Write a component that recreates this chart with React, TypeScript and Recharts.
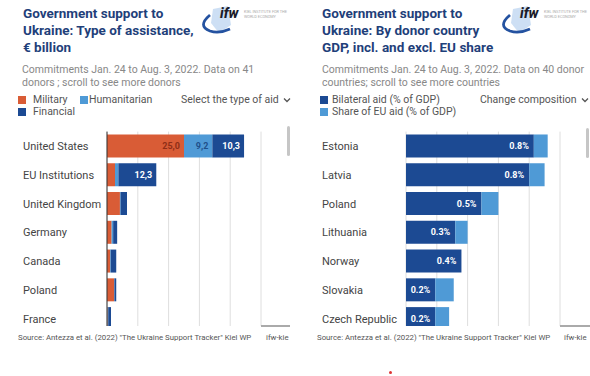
import React from 'react';
import { BarChart, Bar, XAxis, YAxis, CartesianGrid, LabelList } from 'recharts';

// left panel: aid by type, € billion
const donors = ['United States', 'EU Institutions', 'United Kingdom', 'Germany', 'Canada', 'Poland', 'France'];
const militaryAid = [25.0, 2.6, 4.2, 1.5, 1.0, 2.3, 0.2];
const humanitarianAid = [9.2, 1.1, 0.2, 0.5, 0.2, 0.1, 0.2];
const financialAid = [10.3, 12.3, 2.1, 1.3, 1.8, 0.6, 0.9];
const aidTicks = [0, 10, 20, 30, 40, 50];

// right panel: % of donor GDP
const countries = ['Estonia', 'Latvia', 'Poland', 'Lithuania', 'Norway', 'Slovakia', 'Czech Republic'];
const bilateralGdp = [0.83, 0.8, 0.49, 0.32, 0.36, 0.19, 0.19];
const euShareGdp = [0.09, 0.1, 0.11, 0.08, 0, 0.12, 0.09];
const gdpTicks = [0, 0.2, 0.4, 0.6, 0.8, 1.0];

const RED = '#d95c36';
const LIGHT = '#4f9ad6';
const DARK = '#1c4a93';
const NAVY = '#1f3f7a';
const FONT = 'Roboto, "Noto Sans", sans-serif';

const aidData = donors.map((name, i) => ({
  name,
  military: militaryAid[i],
  humanitarian: humanitarianAid[i],
  financial: financialAid[i],
}));

const gdpData = countries.map((name, i) => ({
  name,
  bilateral: bilateralGdp[i],
  eu: euShareGdp[i],
}));

const segLabel = (color: string, fmt: (v: number) => string, min: number, pad: number) => (props: any) => {
  const { x, y, width, height, value } = props;
  if (value == null || value < min) return null;
  return (
    <text
      x={Number(x) + Number(width) - pad}
      y={Number(y) + Number(height) / 2}
      dy={3.2}
      textAnchor="end"
      fontSize={9}
      fontWeight={700}
      fontFamily={FONT}
      fill={color}
    >
      {fmt(value)}
    </text>
  );
};

const comma = (v: number) => v.toFixed(1).replace('.', ',');
const pct = (v: number) => v.toFixed(1) + '%';

const catTick = (left: number) => (props: any) => {
  const { y, payload } = props;
  return (
    <text x={left} y={y} dy={4} fontSize={11} fontFamily={FONT} fill="#444" textAnchor="start">
      {payload.value}
    </text>
  );
};

const Chevron = () => (
  <svg width="8" height="6" style={{ marginLeft: 4, verticalAlign: 'middle' }}>
    <polyline points="1,1.5 4,4.5 7,1.5" fill="none" stroke="#555" strokeWidth="1.3" />
  </svg>
);

const Logo = ({ left }: { left: number }) => (
  <svg width="95" height="40" style={{ position: 'absolute', left, top: 0 }}>
    <path d="M 17 9 L 32 6 L 35 25 L 23 33 L 15 23 Z" fill="#c8dcf3" opacity="0.9" />
    <path d="M 14 15 Q 1 26 14 31 Q 23 34 34 29" fill="none" stroke="#2452a0" strokeWidth="2.8" />
    <text x="24" y="18" fontSize="14" fontWeight="800" fontStyle="italic" fontFamily={FONT} fill="#1b1b2a">ifw</text>
    <text x="48" y="13" fontSize="3.8" fontFamily={FONT} fill="#aaa">KIEL INSTITUTE FOR THE</text>
    <text x="48" y="17.5" fontSize="3.8" fontFamily={FONT} fill="#aaa">WORLD ECONOMY</text>
  </svg>
);

const box = (left: number, top: number, extra: React.CSSProperties = {}): React.CSSProperties => ({
  position: 'absolute',
  left,
  top,
  fontFamily: FONT,
  whiteSpace: 'nowrap',
  ...extra,
});

const titleStyle: React.CSSProperties = { fontSize: 13.5, fontWeight: 700, lineHeight: '17px', color: NAVY };
const subStyle: React.CSSProperties = { fontSize: 10.5, lineHeight: '12.5px', color: '#888' };
const legStyle: React.CSSProperties = { fontSize: 10.5, lineHeight: '12px', color: '#555' };
const srcStyle: React.CSSProperties = { fontSize: 7.8, lineHeight: '10px', color: '#555' };

const Swatch = ({ left, top, color }: { left: number; top: number; color: string }) => (
  <div style={{ position: 'absolute', left, top, width: 8, height: 8, background: color }} />
);

export default function App() {
  return (
    <div style={{ position: 'absolute', left: 0, top: 0, width: 590, height: 376, background: '#fff', overflow: 'hidden' }}>
      {/* left panel */}
      <div style={box(23, 5, titleStyle)}>
        Government support to<br />Ukraine: Type of assistance,<br />€ billion
      </div>
      <Logo left={196} />
      <div style={box(22, 64, subStyle)}>
        Commitments Jan. 24 to Aug. 3, 2022. Data on 41<br />donors ; scroll to see more donors
      </div>
      <Swatch left={18} top={96} color={RED} />
      <div style={box(33, 94, legStyle)}>Military</div>
      <Swatch left={80} top={96} color={LIGHT} />
      <div style={box(89, 94, legStyle)}>Humanitarian</div>
      <Swatch left={18} top={108} color={DARK} />
      <div style={box(33, 106, legStyle)}>Financial</div>
      <div style={box(181, 94, legStyle)}>
        Select the type of aid<Chevron />
      </div>

      <div style={{ position: 'absolute', left: 0, top: 125, width: 295, height: 201, overflow: 'hidden' }}>
        <BarChart
          width={295}
          height={216}
          data={aidData}
          layout="vertical"
          barCategoryGap="10%"
          margin={{ top: 6.6, right: 34, bottom: 8, left: 0 }}
        >
          <CartesianGrid horizontal={false} stroke="#dedede" />
          <XAxis type="number" domain={[0, 50]} ticks={aidTicks} hide />
          <YAxis
            type="category"
            dataKey="name"
            width={107}
            interval={0}
            tickLine={false}
            axisLine={{ stroke: '#333' }}
            tick={catTick(23)}
          />
          <Bar dataKey="military" stackId="a" fill={RED} isAnimationActive={false}>
            <LabelList dataKey="military" content={segLabel('#8e2e17', comma, 5, 4)} />
          </Bar>
          <Bar dataKey="humanitarian" stackId="a" fill={LIGHT} isAnimationActive={false}>
            <LabelList dataKey="humanitarian" content={segLabel('#1f4f8a', comma, 5, 4)} />
          </Bar>
          <Bar dataKey="financial" stackId="a" fill={DARK} isAnimationActive={false}>
            <LabelList dataKey="financial" content={segLabel('#ffffff', comma, 5, 4)} />
          </Bar>
        </BarChart>
      </div>
      <div style={{ position: 'absolute', left: 287, top: 126, width: 3, height: 30, background: '#c6c6c6', borderRadius: 2 }} />
      <div style={{ position: 'absolute', left: 261, top: 325, width: 29, height: 1.5, background: '#aaa' }} />
      <div style={box(18, 333, srcStyle)}>Source: Antezza et al. (2022) "The Ukraine Support Tracker" Kiel WP</div>
      <div style={box(266, 333, srcStyle)}>ifw-kie</div>

      {/* right panel */}
      <div style={box(322, 5, titleStyle)}>
        Government support to<br />Ukraine: By donor country<br />GDP, incl. and excl. EU share
      </div>
      <Logo left={496} />
      <div style={box(322, 64, subStyle)}>
        Commitments Jan. 24 to Aug. 3, 2022. Data on 40 donor<br />countries; scroll to see more countries
      </div>
      <Swatch left={320} top={96} color={DARK} />
      <div style={box(332, 94, legStyle)}>Bilateral aid (% of GDP)</div>
      <Swatch left={320} top={108} color={LIGHT} />
      <div style={box(332, 106, legStyle)}>Share of EU aid (% of GDP)</div>
      <div style={box(480, 94, legStyle)}>
        Change composition<Chevron />
      </div>

      <div style={{ position: 'absolute', left: 295, top: 125, width: 295, height: 201, overflow: 'hidden' }}>
        <BarChart
          width={295}
          height={216}
          data={gdpData}
          layout="vertical"
          barCategoryGap="10%"
          margin={{ top: 6.6, right: 30, bottom: 8, left: 0 }}
        >
          <CartesianGrid horizontal={false} stroke="#dedede" />
          <XAxis type="number" domain={[0, 1]} ticks={gdpTicks} hide />
          <YAxis
            type="category"
            dataKey="name"
            width={111}
            interval={0}
            tickLine={false}
            axisLine={false}
            tick={catTick(27)}
          />
          <Bar dataKey="bilateral" stackId="g" fill={DARK} isAnimationActive={false}>
            <LabelList dataKey="bilateral" content={segLabel('#ffffff', pct, 0.1, 5)} />
          </Bar>
          <Bar dataKey="eu" stackId="g" fill={LIGHT} isAnimationActive={false} />
        </BarChart>
      </div>
      <div style={{ position: 'absolute', left: 586, top: 128, width: 3, height: 30, background: '#c6c6c6', borderRadius: 2 }} />
      <div style={{ position: 'absolute', left: 560, top: 325, width: 30, height: 1.5, background: '#aaa' }} />
      <div style={box(317, 333, srcStyle)}>Source: Antezza et al. (2022) "The Ukraine Support Tracker" Kiel WP</div>
      <div style={box(564, 333, srcStyle)}>ifw-kie</div>

      <div style={{ position: 'absolute', left: 389, top: 371, width: 3, height: 3, borderRadius: 2, background: '#d33' }} />
    </div>
  );
}
